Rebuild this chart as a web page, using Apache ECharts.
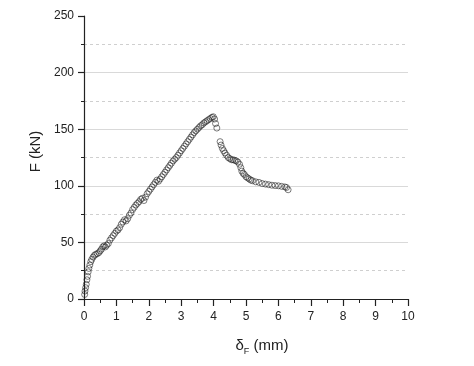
<!DOCTYPE html>
<html><head><meta charset="utf-8">
<script src="https://cdn.jsdelivr.net/npm/echarts@6/dist/echarts.min.js"></script>
<style>html,body{margin:0;padding:0;background:#fff}#c{width:474px;height:366px}</style>
</head><body><div id="c"></div>
<script>
var xTicks = [0,1,2,3,4,5,6,7,8,9,10];
var yTicks = [0,50,100,150,200,250];
var dispX = [0.02,0.03,0.05,0.07,0.09,0.11,0.13,0.15,0.18,0.21,0.24,0.28,0.32,0.36,0.41,0.46,0.5,0.54,0.58,0.62,0.66,0.7,0.75,0.8,0.85,0.9,0.95,1.0,1.05,1.1,1.15,1.2,1.25,1.3,1.35,1.4,1.45,1.5,1.55,1.6,1.65,1.7,1.75,1.8,1.85,1.9,1.95,2.0,2.05,2.1,2.15,2.2,2.25,2.3,2.35,2.4,2.45,2.5,2.55,2.6,2.65,2.7,2.75,2.8,2.85,2.9,2.95,3.0,3.05,3.1,3.15,3.2,3.25,3.3,3.35,3.4,3.45,3.5,3.55,3.6,3.65,3.7,3.75,3.8,3.85,3.9,3.95,3.99,4.03,4.06,4.1,4.2,4.23,4.27,4.31,4.35,4.4,4.45,4.5,4.55,4.6,4.65,4.7,4.75,4.8,4.84,4.87,4.91,4.95,5.0,5.05,5.1,5.15,5.2,5.3,5.4,5.5,5.6,5.7,5.8,5.9,6.0,6.1,6.2,6.25,6.3];
var forceF = [4,7,10,13,17,20,24,27,30,33,35,37,38.5,39.5,40,41,42.5,44,46,47,46,47.5,49,52,54,56,58,60,61,63,66,68,70,69,71,74,76,79,81,83,84.5,86,88,89,87,90,93,95,97,99,101,103,105,104,106,108,110,112,114,116,118,120,122,123.5,125,127,129,131,133,135,137,139,141,143,145,147,148.5,150,151.5,153,154,155.5,156.5,157.5,158.5,159.5,160.5,161,159,155,151,139,136,133,131,129,127,125,124,123,123,122.5,122,121,119,116,113,111,110,108,107,106,105,104.5,103.5,103,102,101.5,101,100.5,100.2,100,99.5,99,98.5,96.5];

var data = dispX.map(function(x,i){return [x, forceF[i]];});
var chart = echarts.init(document.getElementById('c'), null, {renderer:'canvas'});
var font = 'Liberation Sans, Arial, sans-serif';
chart.setOption({
  animation:false,
  backgroundColor:'#fff',
  grid:{left:84,right:66,top:16,bottom:67,containLabel:false},
  xAxis:{
    type:'value',min:xTicks[0],max:xTicks[xTicks.length-1],interval:1,
    name:'{d|δ}{s|F}{d| (mm)}',nameLocation:'middle',nameGap:36,
    nameTextStyle:{padding:[0,0,0,32],rich:{d:{fontFamily:font,fontSize:15,color:'#222'},s:{fontFamily:font,fontSize:9,color:'#222',padding:[12,0,0,0]}}},
    axisLine:{show:true,lineStyle:{color:'#222',width:1.2}},
    axisTick:{show:true,inside:false,length:7,lineStyle:{color:'#222',width:1.2}},
    minorTick:{show:true,splitNumber:2,length:4,lineStyle:{color:'#222',width:1}},
    axisLabel:{fontFamily:font,fontSize:12,color:'#222',margin:12},
    splitLine:{show:false}
  },
  yAxis:{
    type:'value',min:yTicks[0],max:yTicks[yTicks.length-1],interval:50,
    name:'F (kN)',nameLocation:'middle',nameGap:39,
    nameTextStyle:{fontFamily:font,fontSize:15,color:'#222',padding:[0,0,0,12]},
    axisLine:{show:true,lineStyle:{color:'#222',width:1.2}},
    axisTick:{show:true,inside:false,length:6,lineStyle:{color:'#222',width:1.2}},
    minorTick:{show:true,splitNumber:2,length:3,lineStyle:{color:'#222',width:1}},
    axisLabel:{fontFamily:font,fontSize:12,color:'#222',margin:10},
    splitLine:{show:true,showMinLine:false,showMaxLine:false,lineStyle:{color:'#d9d9d9',width:1}},
    minorSplitLine:{show:true,lineStyle:{color:'#cfcfcf',width:1,type:[3,3]}}
  },
  series:[{
    type:'scatter',data:data,symbol:'circle',symbolSize:6,
    itemStyle:{color:'rgba(255,255,255,0)',borderColor:'rgba(30,30,30,0.72)',borderWidth:1}
  }]
});
</script></body></html>
